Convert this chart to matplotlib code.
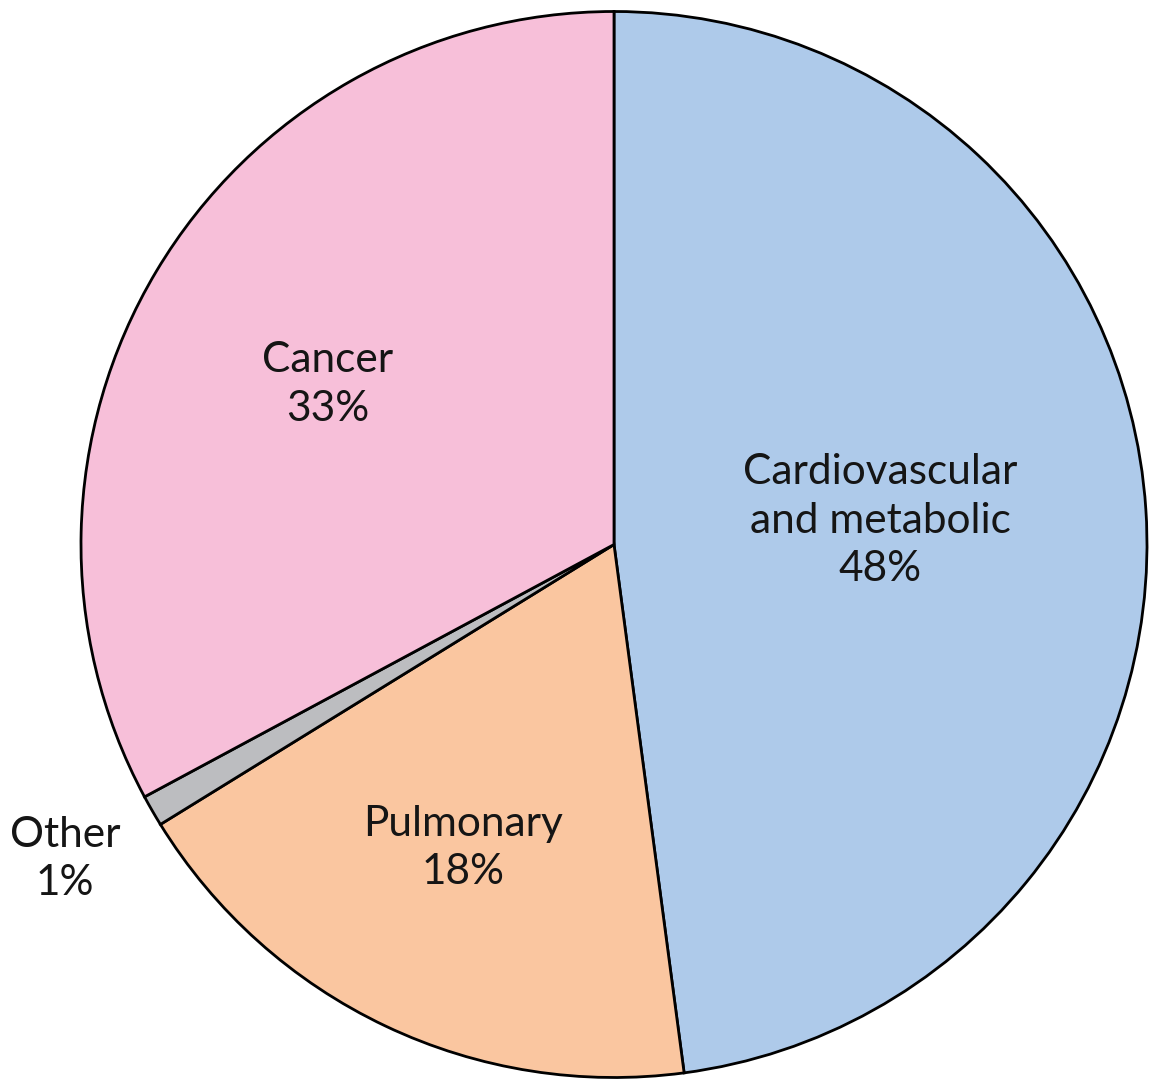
import matplotlib.pyplot as plt

labels = ['Cardiovascular\nand metabolic\n48%', 'Pulmonary\n18%', 'Other\n1%', 'Cancer\n33%']
shares = [47.9, 18.3, 0.95, 32.85]
colors = ['#AECAEA', '#FAC6A0', '#BCBDC0', '#F7BFD9']

# label centres in axes-data units (pie radius = 1)
label_pos = [(0.50, 0.045), (-0.283, -0.57), (-1.03, -0.59), (-0.537, 0.30)]

plt.rcParams['font.family'] = ['Lato', 'DejaVu Sans']

fig = plt.figure(figsize=(11.52, 10.79), dpi=100)
cx, cy, r = 614, 544.5, 533
ax = fig.add_axes([(cx - r) / 1152, 1 - (cy + r) / 1079, 2 * r / 1152, 2 * r / 1079])

ax.pie(shares, colors=colors, startangle=90, counterclock=False,
       wedgeprops=dict(edgecolor='black', linewidth=2))
ax.set_xlim(-1, 1)
ax.set_ylim(-1, 1)
ax.set_aspect('auto')
ax.axis('off')

for txt, (x, y) in zip(labels, label_pos):
    ax.text(x, y, txt, ha='center', va='center', fontsize=30.5, color='#151515',
            linespacing=1.33)

fig.savefig('out.png', dpi=100)
